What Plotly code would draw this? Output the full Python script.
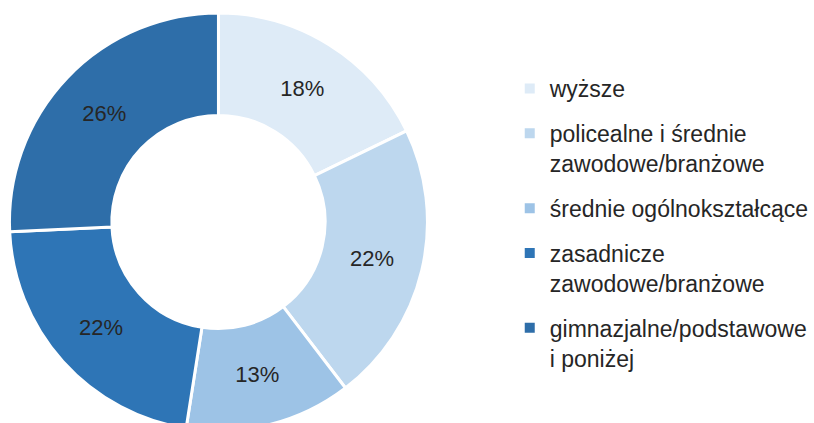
import plotly.graph_objects as go

categories = [
    "wyższe",
    "policealne i średnie<br>zawodowe/branżowe",
    "średnie ogólnokształcące",
    "zasadnicze<br>zawodowe/branżowe",
    "gimnazjalne/podstawowe<br>i poniżej",
]
shares = [18, 22, 13, 22, 26]
colors = ["#DEEBF7", "#BDD7EE", "#9DC3E6", "#2E75B6", "#2E6EA9"]

FONT = "Liberation Sans, Arial, sans-serif"
TEXT = "#262626"

W, H = 814, 431
TOP = 13

fig = go.Figure()
fig.add_trace(go.Pie(
    labels=categories,
    values=shares,
    sort=False,
    direction="clockwise",
    rotation=0,
    hole=0.51,
    marker=dict(colors=colors, line=dict(color="white", width=3)),
    texttemplate="%{percent:.0%}",
    textposition="inside",
    insidetextorientation="horizontal",
    textfont=dict(family=FONT, size=22, color=TEXT),
    domain=dict(x=[0, 438 / W], y=[0, 1]),
    showlegend=False,
    hoverinfo="label+percent",
))

# legend entries (one per category) so that the gap between items can be set
for name, col in zip(categories, colors):
    fig.add_trace(go.Scatter(
        x=[None], y=[None], mode="markers", name=name, legendgroup=name,
        marker=dict(symbol="square", size=10, color=col),
        hoverinfo="skip",
    ))

fig.update_layout(
    width=W, height=H,
    margin=dict(l=0, r=0, t=TOP, b=0),
    paper_bgcolor="white", plot_bgcolor="white",
    xaxis=dict(visible=False), yaxis=dict(visible=False),
    font=dict(family=FONT, size=23, color=TEXT),
    legend=dict(
        x=511 / W, xanchor="left",
        y=1 - 54 / (H - TOP), yanchor="top",
        valign="top",
        tracegroupgap=12,
        font=dict(family=FONT, size=23, color=TEXT),
        bgcolor="rgba(0,0,0,0)",
    ),
)

fig.write_html(
    "out.html",
    config={"displayModeBar": False},
    post_script="document.body.style.margin='0px';document.body.style.overflow='hidden';",
)
